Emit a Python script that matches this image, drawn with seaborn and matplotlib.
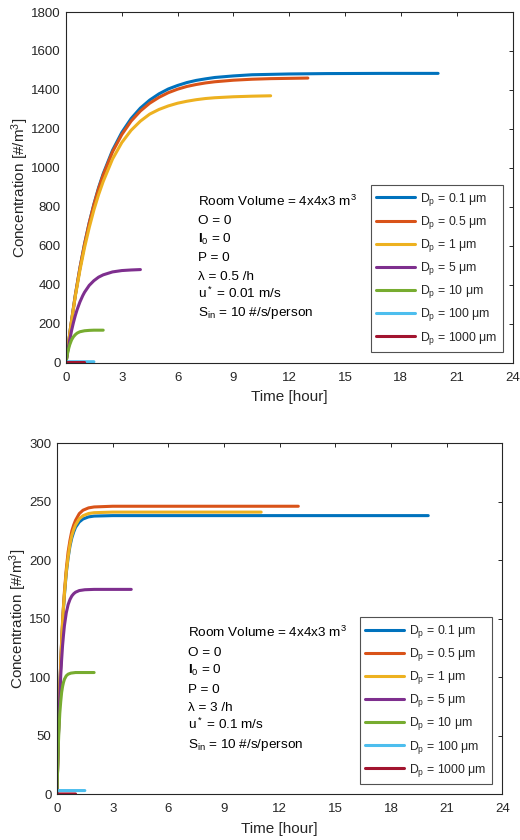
import pandas as pd
import matplotlib
matplotlib.use('Agg')
import matplotlib.pyplot as plt
import seaborn as sns

# particle sizes (µm) and MATLAB default line colours
sizes = ['0.1', '0.5', '1', '5', '10', '100', '1000']
colors = ['#0072BD', '#D95319', '#EDB120', '#7E2F8E', '#77AC30', '#4DBEEE', '#A2142F']

# --- upper panel: lambda = 0.5 /h, u* = 0.01 m/s
top_t_01 = [0, 0.25, 0.5, 0.75, 1, 1.25, 1.5, 1.75, 2, 2.5, 3, 3.5, 4, 4.5, 5, 5.5, 6, 6.5, 7, 7.5, 8, 9, 10, 11, 12, 14, 17, 20]
top_c_01 = [0, 184, 346, 487, 611, 719, 814, 898, 970, 1090, 1182, 1253, 1307, 1348, 1380, 1405, 1423, 1438, 1449, 1457, 1464, 1472, 1478, 1480, 1482, 1484, 1485, 1485]
top_t_05 = [0, 0.25, 0.5, 0.75, 1, 1.25, 1.5, 1.75, 2, 2.5, 3, 3.5, 4, 4.5, 5, 5.5, 6, 6.5, 7, 7.5, 8, 9, 10, 11, 13]
top_c_05 = [0, 184, 346, 487, 610, 717, 811, 893, 964, 1082, 1171, 1240, 1292, 1332, 1362, 1386, 1404, 1418, 1428, 1436, 1442, 1450, 1455, 1458, 1461]
top_t_1 = [0, 0.25, 0.5, 0.75, 1, 1.25, 1.5, 1.75, 2, 2.5, 3, 3.5, 4, 4.5, 5, 5.5, 6, 6.5, 7, 7.5, 8, 9, 10, 11]
top_c_1 = [0, 182, 340, 475, 592, 694, 784, 862, 930, 1045, 1130, 1193, 1240, 1276, 1300, 1318, 1332, 1342, 1350, 1356, 1360, 1365, 1368, 1370]
top_t_5 = [0, 0.1, 0.2, 0.3, 0.4, 0.5, 0.6, 0.75, 0.9, 1, 1.25, 1.5, 1.75, 2, 2.5, 3, 3.5, 4]
top_c_5 = [0, 63, 117, 165, 206, 242, 273, 312, 344, 362, 397, 421, 439, 451, 466, 473, 476, 478]
top_t_10 = [0, 0.05, 0.1, 0.15, 0.2, 0.3, 0.4, 0.5, 0.6, 0.75, 1, 1.25, 1.5, 2]
top_c_10 = [0, 30, 55, 75, 92, 117, 133, 144, 152, 159, 164, 166, 167, 167]
top_t_100 = [0, 0.02, 1.5]
top_c_100 = [0, 5, 5]
top_t_1000 = [0, 0.02, 1]
top_c_1000 = [0, 1, 1]

# --- lower panel: lambda = 3 /h, u* = 0.1 m/s
bot_t_01 = [0, 0.05, 0.1, 0.15, 0.2, 0.25, 0.3, 0.35, 0.4, 0.5, 0.6, 0.7, 0.8, 0.9, 1, 1.2, 1.4, 1.7, 2, 3, 20]
bot_c_01 = [0, 35, 64, 90, 111, 130, 145, 159, 170, 189, 202, 212, 219, 224, 228, 232.6, 235.1, 236.9, 237.6, 238, 238]
bot_t_05 = [0, 0.05, 0.1, 0.15, 0.2, 0.25, 0.3, 0.35, 0.4, 0.5, 0.6, 0.7, 0.8, 0.9, 1, 1.2, 1.4, 1.7, 2, 3, 13]
bot_c_05 = [0, 35, 65, 90, 112, 131, 148, 161, 173, 192, 207, 217, 225, 230, 234, 239.7, 242.6, 244.6, 245.4, 246, 246]
bot_t_1 = [0, 0.05, 0.1, 0.15, 0.2, 0.25, 0.3, 0.35, 0.4, 0.5, 0.6, 0.7, 0.8, 0.9, 1, 1.2, 1.4, 1.7, 2, 3, 11]
bot_c_1 = [0, 35, 64, 90, 111, 130, 146, 160, 171, 190, 203, 213.5, 221, 226, 230, 235.2, 237.9, 239.8, 240.5, 241, 241]
bot_t_5 = [0, 0.05, 0.1, 0.15, 0.2, 0.25, 0.3, 0.35, 0.4, 0.5, 0.6, 0.7, 0.8, 0.9, 1, 1.2, 1.5, 2, 4]
bot_c_5 = [0, 34, 61, 83, 101, 115, 127, 136, 144, 155, 162, 166.4, 169.4, 171.3, 172.6, 174, 174.7, 175, 175]
bot_t_10 = [0, 0.025, 0.05, 0.075, 0.1, 0.15, 0.2, 0.25, 0.3, 0.35, 0.4, 0.5, 0.6, 0.75, 1, 2]
bot_c_10 = [0, 17, 31, 43, 53, 69, 79, 87, 92, 95.6, 98.2, 101.2, 102.6, 103.5, 104, 104]
bot_t_100 = [0, 0.02, 1.5]
bot_c_100 = [0, 3.2, 3.2]
bot_t_1000 = [0, 0.02, 1]
bot_c_1000 = [0, 0.3, 0.3]

top_notes = ['Room Volume = 4x4x3 m$^3$', 'O = 0', r'$\mathbf{I}_\mathrm{0}$ = 0', 'P = 0',
             'λ = 0.5 /h', 'u$^*$ = 0.01 m/s', r'S$_\mathrm{in}$ = 10 #/s/person']
bot_notes = ['Room Volume = 4x4x3 m$^3$', 'O = 0', r'$\mathbf{I}_\mathrm{0}$ = 0', 'P = 0',
             'λ = 3 /h', 'u$^*$ = 0.1 m/s', r'S$_\mathrm{in}$ = 10 #/s/person']


def build_frame(ts, cs):
    rows = []
    for s, t, c in zip(sizes, ts, cs):
        rows.append(pd.DataFrame({'size': s, 'time': t, 'conc': c}))
    return pd.concat(rows, ignore_index=True)


top_df = build_frame([top_t_01, top_t_05, top_t_1, top_t_5, top_t_10, top_t_100, top_t_1000],
                     [top_c_01, top_c_05, top_c_1, top_c_5, top_c_10, top_c_100, top_c_1000])
bot_df = build_frame([bot_t_01, bot_t_05, bot_t_1, bot_t_5, bot_t_10, bot_t_100, bot_t_1000],
                     [bot_c_01, bot_c_05, bot_c_1, bot_c_5, bot_c_10, bot_c_100, bot_c_1000])

sns.set_style("white")
plt.rcParams['font.family'] = ['Liberation Sans', 'DejaVu Sans']
plt.rcParams['mathtext.fontset'] = 'custom'
plt.rcParams['mathtext.rm'] = 'Liberation Sans'
plt.rcParams['mathtext.it'] = 'Liberation Sans:italic'
plt.rcParams['mathtext.bf'] = 'Liberation Sans:bold'

FS_TICK = 9.5
FS_LABEL = 11
FS_NOTE = 9.7
FS_LEG = 8.8
INK = '#262626'

fig = plt.figure(figsize=(5.2, 8.4), dpi=100)
ax_top = fig.add_axes([0.1269, 0.5682, 0.8587, 0.4175])
ax_bot = fig.add_axes([0.1096, 0.0544, 0.8567, 0.4182])


def draw_panel(ax, df, ymax, ystep, notes, note_x, leg_anchor):
    sns.lineplot(data=df, x='time', y='conc', hue='size', hue_order=sizes,
                 palette=colors, lw=2.2, estimator=None, sort=False,
                 legend=False, ax=ax)
    ax.set_xlim(0, 24)
    ax.set_ylim(0, ymax)
    ax.set_xticks(range(0, 25, 3))
    ax.set_yticks(range(0, ymax + 1, ystep))
    ax.tick_params(direction='in', length=3, width=0.7, colors=INK,
                   labelsize=FS_TICK, top=True, right=True)
    ax.tick_params(axis='x', pad=6.5)
    ax.tick_params(axis='y', pad=4)
    for sp in ax.spines.values():
        sp.set_color(INK)
        sp.set_linewidth(0.8)
    ax.set_xlabel('Time [hour]', fontsize=FS_LABEL, color=INK, labelpad=4.5)
    ax.set_ylabel('Concentration [#/m$^3$]', fontsize=FS_LABEL, color=INK, labelpad=0)

    for i, line in enumerate(notes):
        ax.text(note_x, 0.447 - i * 0.0525, line, transform=ax.transAxes,
                fontsize=FS_NOTE, color='black', va='baseline', ha='left')

    labels = [f'D$_\\mathrm{{p}}$ = {s} μm' for s in sizes]
    leg = ax.legend(handles=ax.lines[:len(sizes)], labels=labels,
                    loc='lower right', bbox_to_anchor=leg_anchor,
                    fontsize=FS_LEG, frameon=True, fancybox=False,
                    handlelength=3.2, handletextpad=0.4, labelspacing=0.5,
                    borderpad=0.45, borderaxespad=0)
    leg.get_frame().set_edgecolor(INK)
    leg.get_frame().set_linewidth(0.8)
    for h in leg.get_lines():
        h.set_linewidth(2.2)


draw_panel(ax_top, top_df, 1800, 200, top_notes, 0.295, (0.9787, 0.0305))
draw_panel(ax_bot, bot_df, 300, 50, bot_notes, 0.293, (0.976, 0.029))

fig.savefig('out.png', dpi=100)
plt.close(fig)
